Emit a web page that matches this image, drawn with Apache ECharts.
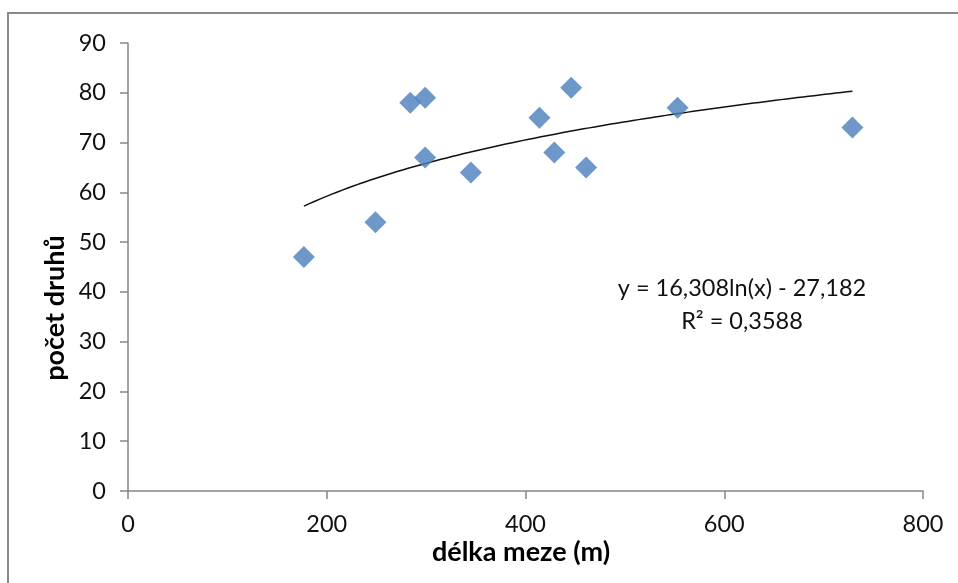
<!DOCTYPE html>
<html>
<head>
<meta charset="utf-8">
<script src="https://cdn.jsdelivr.net/npm/echarts@6/dist/echarts.min.js"></script>
<style>html,body{margin:0;padding:0;background:#fff;}#c{width:958px;height:583px;}</style>
</head>
<body>
<div id="c"></div>
<script>
// Data
const delkaMeze = [177, 249, 284, 299, 299, 345, 414, 429, 446, 461, 553, 729];
const pocetDruhu = [47, 54, 78, 79, 67, 64, 75, 68, 81, 65, 77, 73];
// Logarithmic trendline as printed on the chart: y = a*ln(x) + b
const trendCoef = [16.308, -27.182];
const trendRange = [177, 729];
const equationLines = ['y = 16,308ln(x) - 27,182', 'R² = 0,3588'];
const xTicks = [0, 200, 400, 600, 800];
const yTicks = [0, 10, 20, 30, 40, 50, 60, 70, 80, 90];

const scatterData = delkaMeze.map((x, i) => [x, pocetDruhu[i]]);
const trendData = [];
for (let i = 0; i <= 100; i++) {
  const x = trendRange[0] + (trendRange[1] - trendRange[0]) * i / 100;
  trendData.push([x, trendCoef[0] * Math.log(x) + trendCoef[1]]);
}

const FONT = 'Lato, "Open Sans", sans-serif';
const AX = '#868686';
const chart = echarts.init(document.getElementById('c'), null, {renderer: 'canvas'});
chart.setOption({
  animation: false,
  backgroundColor: '#fff',
  grid: {left: 128, top: 43, right: 35, bottom: 92, containLabel: false},
  xAxis: {
    type: 'value', min: xTicks[0], max: xTicks[xTicks.length - 1], interval: 200,
    axisLine: {show: true, lineStyle: {color: AX, width: 1.5}},
    axisTick: {show: true, inside: false, length: 8, lineStyle: {color: AX, width: 1.5}},
    splitLine: {show: false},
    axisLabel: {color: '#111', fontFamily: FONT, fontSize: 23.5, margin: 21}
  },
  yAxis: {
    type: 'value', min: yTicks[0], max: yTicks[yTicks.length - 1], interval: 10,
    axisLine: {show: true, lineStyle: {color: AX, width: 1.5}},
    axisTick: {show: true, inside: false, length: 8, lineStyle: {color: AX, width: 1.5}},
    splitLine: {show: false},
    axisLabel: {color: '#111', fontFamily: FONT, fontSize: 23.5, margin: 22}
  },
  series: [
    {
      type: 'line', data: trendData, showSymbol: false, symbol: 'none', z: 3,
      lineStyle: {color: '#111', width: 1.5}, silent: true
    },
    {
      type: 'scatter', data: scatterData, symbol: 'diamond', symbolSize: 22, z: 4,
      itemStyle: {color: '#4A7EBB'}
    }
  ],
  graphic: [
    {type: 'rect', shape: {x: 8, y: 13, width: 1000, height: 1000}, style: {fill: 'none', stroke: '#8a8a8a', lineWidth: 2}, z: -10},
    {type: 'text', x: 521, y: 552, style: {text: 'délka meze (m)', font: 'bold 27px ' + FONT, fill: '#000', align: 'center', verticalAlign: 'middle'}},
    {type: 'text', x: 55, y: 308, rotation: Math.PI / 2, style: {text: 'počet druhů', font: 'bold 27px ' + FONT, fill: '#000', align: 'center', verticalAlign: 'middle'}},
    {type: 'text', x: 742, y: 288, style: {text: equationLines[0], font: '23.5px ' + FONT, fill: '#111', align: 'center', verticalAlign: 'middle'}},
    {type: 'text', x: 742, y: 321, style: {text: equationLines[1], font: '23.5px ' + FONT, fill: '#111', align: 'center', verticalAlign: 'middle'}}
  ]
});
</script>
</body>
</html>
